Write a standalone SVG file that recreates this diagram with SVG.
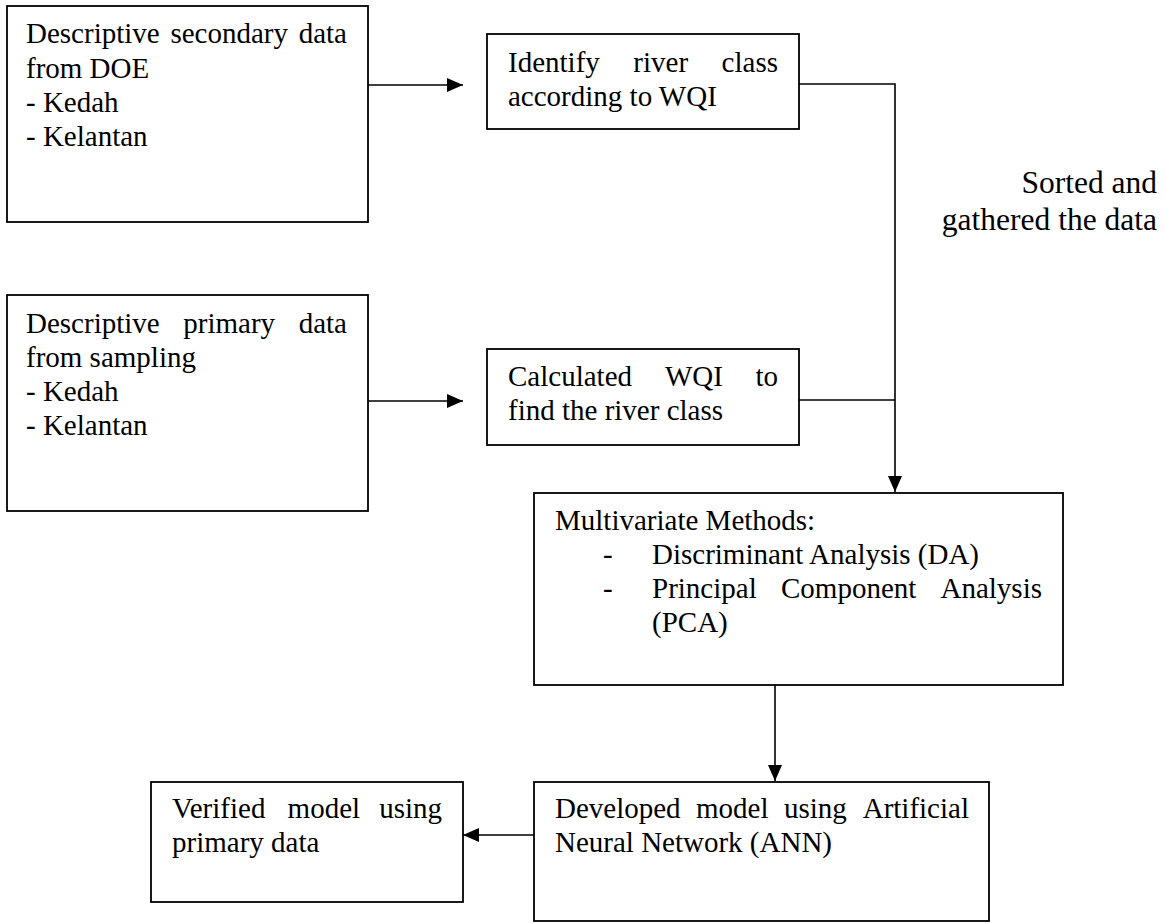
<svg xmlns="http://www.w3.org/2000/svg" width="1165" height="924" viewBox="0 0 1165 924">
  <style>
    .box { fill: #ffffff; stroke: #000000; stroke-width: 1.8; }
    .lbl { font-family: "Liberation Serif", "Times New Roman", serif; font-size: 29px; fill: #000000; }
    .note { font-family: "Liberation Serif", "Times New Roman", serif; font-size: 31.5px; fill: #000000; text-anchor: end; }
    .wire { fill: none; stroke: #000000; stroke-width: 1.6; }
  </style>
  <defs>
    <marker id="arrow" markerUnits="userSpaceOnUse" markerWidth="16" markerHeight="14" refX="16" refY="7" orient="auto">
      <path d="M0,0 L16,7 L0,14 Z" fill="#000000"/>
    </marker>
  </defs>

  <rect width="1165" height="924" fill="#ffffff"/>

  <!-- connectors -->
  <g id="connectors">
    <line class="wire" x1="368" y1="85" x2="463" y2="85" marker-end="url(#arrow)"/>
    <line class="wire" x1="368" y1="401" x2="463" y2="401" marker-end="url(#arrow)"/>
    <polyline class="wire" points="799,84 895,84 895,492" marker-end="url(#arrow)"/>
    <polyline class="wire" points="799,400 895,400"/>
    <line class="wire" x1="775" y1="685" x2="775" y2="781" marker-end="url(#arrow)"/>
    <line class="wire" x1="534" y1="835" x2="463" y2="835" marker-end="url(#arrow)"/>
  </g>

  <!-- secondary data source -->
  <g id="secondary-data">
    <rect class="box" x="7" y="6" width="361" height="216"/>
    <text class="lbl" y="43"><tspan x="26">Descriptive</tspan><tspan x="170.4">secondary</tspan><tspan x="298.7">data</tspan></text>
    <text class="lbl" x="26" y="78">from DOE</text>
    <text class="lbl" x="26" y="112">- Kedah</text>
    <text class="lbl" x="26" y="146">- Kelantan</text>
  </g>

  <!-- river class from WQI -->
  <g id="identify-class">
    <rect class="box" x="487" y="34" width="312" height="95"/>
    <text class="lbl" y="72"><tspan x="508">Identify</tspan><tspan x="633.3">river</tspan><tspan x="721.6">class</tspan></text>
    <text class="lbl" x="508" y="106">according to WQI</text>
  </g>

  <!-- edge label -->
  <g id="sorted-label">
    <text class="note" x="1157" y="193">Sorted and</text>
    <text class="note" x="1157" y="230">gathered the data</text>
  </g>

  <!-- primary data source -->
  <g id="primary-data">
    <rect class="box" x="7" y="295" width="361" height="216"/>
    <text class="lbl" y="333"><tspan x="26">Descriptive</tspan><tspan x="183.3">primary</tspan><tspan x="298.7">data</tspan></text>
    <text class="lbl" x="26" y="367">from sampling</text>
    <text class="lbl" x="26" y="401">- Kedah</text>
    <text class="lbl" x="26" y="435">- Kelantan</text>
  </g>

  <!-- WQI calculation -->
  <g id="calculate-wqi">
    <rect class="box" x="487" y="349" width="312" height="96"/>
    <text class="lbl" y="386"><tspan x="508">Calculated</tspan><tspan x="665">WQI</tspan><tspan x="755.4">to</tspan></text>
    <text class="lbl" x="508" y="420">find the river class</text>
  </g>

  <!-- multivariate methods -->
  <g id="multivariate">
    <rect class="box" x="534" y="493" width="529" height="192"/>
    <text class="lbl" x="555" y="530">Multivariate Methods:</text>
    <text class="lbl" x="603" y="564">-</text>
    <text class="lbl" x="652" y="564">Discriminant Analysis (DA)</text>
    <text class="lbl" x="603" y="598">-</text>
    <text class="lbl" y="598"><tspan x="652">Principal</tspan><tspan x="781">Component</tspan><tspan x="940.5">Analysis</tspan></text>
    <text class="lbl" x="652" y="632">(PCA)</text>
  </g>

  <!-- ANN model -->
  <g id="ann-model">
    <rect class="box" x="534" y="782" width="455" height="139"/>
    <text class="lbl" y="818"><tspan x="555">Developed</tspan><tspan x="696">model</tspan><tspan x="784">using</tspan><tspan x="862.7">Artificial</tspan></text>
    <text class="lbl" x="555" y="852">Neural Network (ANN)</text>
  </g>

  <!-- verification -->
  <g id="verified-model">
    <rect class="box" x="151" y="782" width="312" height="120"/>
    <text class="lbl" y="818"><tspan x="172">Verified</tspan><tspan x="287.6">model</tspan><tspan x="379.2">using</tspan></text>
    <text class="lbl" x="172" y="852">primary data</text>
  </g>
</svg>
